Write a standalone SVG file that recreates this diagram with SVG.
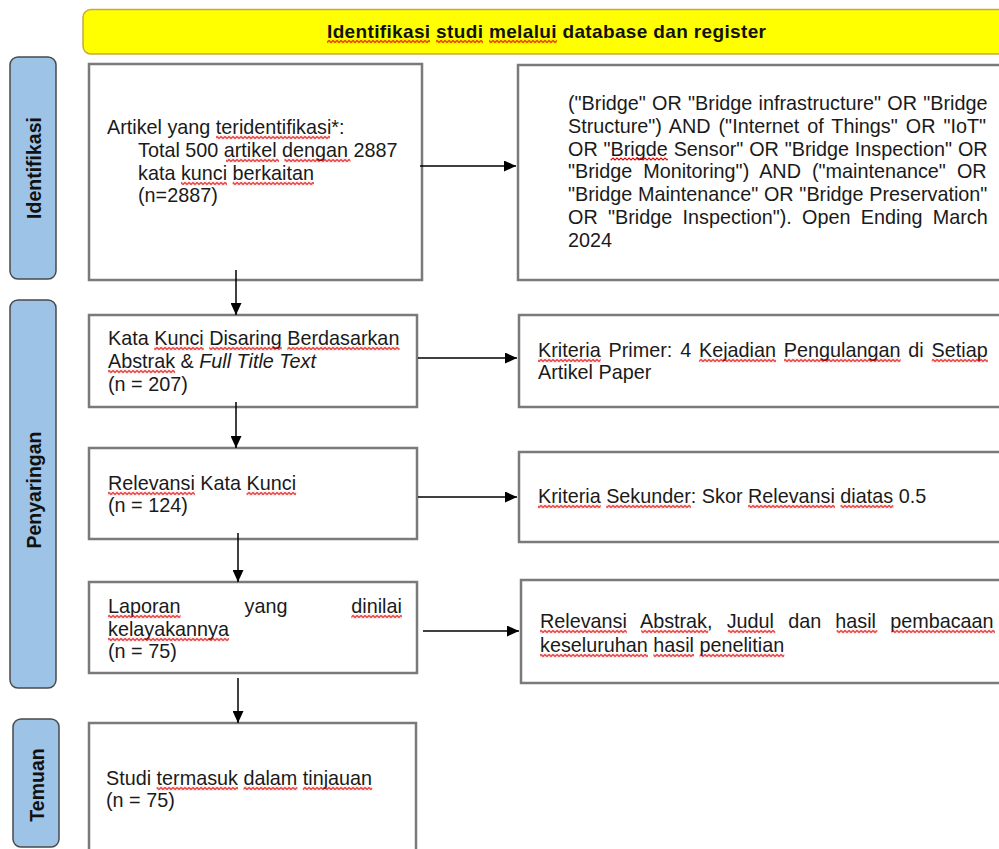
<svg xmlns="http://www.w3.org/2000/svg" width="999" height="849" viewBox="0 0 999 849">
<style>
text{font-family:"Liberation Sans",Arial,sans-serif;font-size:19.8px;fill:#1a1a1a}
.lbl{font-weight:bold;font-size:19.5px;fill:#111}
.hdr{font-weight:bold;font-size:19px;fill:#111}
.side{fill:#9DC3E6;stroke:#4a4a4a;stroke-width:1.5}
.box{fill:#fff;stroke:#7a7a7a;stroke-width:2.5}
.sq rect{fill:url(#wave)}
.con{stroke:#000;stroke-width:1.5;fill:none;marker-end:url(#ah)}
</style>
<defs>
<marker id="ah" markerUnits="userSpaceOnUse" markerWidth="12" markerHeight="11" refX="12" refY="5.5" orient="auto">
<path d="M0,0 L12,5.5 L0,11 z" fill="#000"/>
</marker>
<pattern id="wave" patternUnits="userSpaceOnUse" width="4" height="4">
<path d="M-1,3 L1,1 L3,3 L5,1" fill="none" stroke="#e00000" stroke-width="1.1"/>
</pattern>
</defs>
<rect width="999" height="849" fill="#fff"/>

<g id="header">
<rect x="83" y="9.5" width="930" height="44.5" rx="8" fill="#FFFF00" stroke="#C9A640" stroke-width="1.5"/>
<text class="hdr" x="327" y="38" textLength="439" lengthAdjust="spacing">Identifikasi studi melalui database dan register</text>
<g class="sq" transform="translate(0,39.5)"><rect x="327" width="103" height="4"/><rect x="436" width="47" height="4"/><rect x="489" width="68" height="4"/></g>
</g>

<g id="lbl-identifikasi">
<rect class="side" x="10" y="57" width="46" height="222" rx="8"/>
<text class="lbl" transform="translate(41,168) rotate(-90)" text-anchor="middle">Identifikasi</text>
</g>
<g id="lbl-penyaringan">
<rect class="side" x="10" y="300" width="46" height="388" rx="8"/>
<text class="lbl" transform="translate(41,490) rotate(-90)" text-anchor="middle">Penyaringan</text>
</g>
<g id="lbl-temuan">
<rect class="side" x="13" y="719" width="46" height="128" rx="8"/>
<text class="lbl" transform="translate(44,785) rotate(-90)" text-anchor="middle">Temuan</text>
</g>

<g id="n-artikel">
<rect class="box" x="89" y="64" width="333" height="216"/>
<text x="107" y="134">Artikel yang teridentifikasi*:</text>
<text x="138" y="157">Total 500 artikel dengan 2887</text>
<text x="138" y="180">kata kunci berkaitan</text>
<text x="138" y="202">(n=2887)</text>
<g class="sq" transform="translate(0,135.5)"><rect x="216" width="114" height="4"/></g>
<g class="sq" transform="translate(0,158.5)"><rect x="226" width="53" height="4"/><rect x="284.4" width="66" height="4"/></g>
<g class="sq" transform="translate(0,181.5)"><rect x="181" width="46" height="4"/><rect x="232.6" width="81.4" height="4"/></g>
</g>

<g id="n-query">
<rect class="box" x="518" y="65" width="490" height="215"/>
<text x="568" y="110" word-spacing="0.8">("Bridge" OR "Bridge infrastructure" OR "Bridge</text>
<text x="568" y="132.8" word-spacing="2.5">Structure") AND ("Internet of Things" OR "IoT"</text>
<text x="568" y="155.6" word-spacing="0.38">OR "Brigde Sensor" OR "Bridge Inspection" OR</text>
<text x="568" y="178.4" word-spacing="5.55">"Bridge Monitoring") AND ("maintenance" OR</text>
<text x="568" y="201.2" word-spacing="0.24">"Bridge Maintenance" OR "Bridge Preservation"</text>
<text x="568" y="224" word-spacing="4.82">OR "Bridge Inspection"). Open Ending March</text>
<text x="568" y="246.8">2024</text>
<g class="sq" transform="translate(0,157)"><rect x="610.6" width="57.2" height="4"/></g>
</g>

<g id="n-disaring">
<rect class="box" x="89" y="315" width="328" height="92"/>
<text x="108" y="345">Kata Kunci Disaring Berdasarkan</text>
<text x="108" y="368">Abstrak &amp; <tspan font-style="italic">Full Title Text</tspan></text>
<text x="108" y="391">(n = 207)</text>
<g class="sq" transform="translate(0,346.5)"><rect x="154.2" width="49.5" height="4"/><rect x="209.2" width="72.6" height="4"/><rect x="287.3" width="112.2" height="4"/></g>
<g class="sq" transform="translate(0,369.5)"><rect x="108" width="67.1" height="4"/></g>
</g>

<g id="n-primer">
<rect class="box" x="519" y="315" width="490" height="92"/>
<text x="538" y="357" word-spacing="2.37">Kriteria Primer: 4 Kejadian Pengulangan di Setiap</text>
<text x="538" y="379">Artikel Paper</text>
<g class="sq" transform="translate(0,358.5)"><rect x="538" width="62.7" height="4"/><rect x="699.1" width="77" height="4"/><rect x="784" width="116.7" height="4"/><rect x="931.8" width="56.1" height="4"/></g>
</g>

<g id="n-relevansi">
<rect class="box" x="89" y="448" width="328" height="91"/>
<text x="108" y="490">Relevansi Kata Kunci</text>
<text x="108" y="512">(n = 124)</text>
<g class="sq" transform="translate(0,491.5)"><rect x="108" width="86.9" height="4"/><rect x="246.6" width="49.5" height="4"/></g>
</g>

<g id="n-sekunder">
<rect class="box" x="519" y="452" width="490" height="90"/>
<text x="538" y="503">Kriteria Sekunder: Skor Relevansi diatas 0.5</text>
<g class="sq" transform="translate(0,504.5)"><rect x="538" width="62.7" height="4"/><rect x="606.2" width="84.7" height="4"/><rect x="748.1" width="86.9" height="4"/><rect x="840.5" width="52.8" height="4"/></g>
</g>

<g id="n-laporan">
<rect class="box" x="89" y="582" width="328" height="91"/>
<text x="108" y="613" word-spacing="58.4">Laporan yang dinilai</text>
<text x="108" y="636">kelayakannya</text>
<text x="108" y="658">(n = 75)</text>
<g class="sq" transform="translate(0,614.5)"><rect x="108" width="72.6" height="4"/><rect x="351.3" width="50.6" height="4"/></g>
<g class="sq" transform="translate(0,637.5)"><rect x="108" width="121" height="4"/></g>
</g>

<g id="n-abstrak">
<rect class="box" x="521" y="580" width="490" height="103"/>
<text x="540" y="628" word-spacing="8.68">Relevansi Abstrak, Judul dan hasil pembacaan</text>
<text x="540" y="652">keseluruhan hasil penelitian</text>
<g class="sq" transform="translate(0,629.5)"><rect x="540" width="86.9" height="4"/><rect x="641.1" width="67.1" height="4"/><rect x="727.9" width="47.3" height="4"/><rect x="836.6" width="40.7" height="4"/><rect x="891.5" width="103.5" height="4"/></g>
<g class="sq" transform="translate(0,653.5)"><rect x="540" width="107.9" height="4"/><rect x="653.4" width="40.7" height="4"/><rect x="699.6" width="84.7" height="4"/></g>
</g>

<g id="n-studi">
<rect class="box" x="89" y="723" width="327" height="140"/>
<text x="106" y="785">Studi termasuk dalam tinjauan</text>
<text x="106" y="807">(n = 75)</text>
<g class="sq" transform="translate(0,786.5)"><rect x="156.6" width="81.4" height="4"/><rect x="243.5" width="53.9" height="4"/><rect x="302.9" width="69.3" height="4"/></g>
</g>

<g id="connectors">
<line class="con" x1="420" y1="166" x2="516" y2="166"/>
<line class="con" x1="236" y1="270" x2="236" y2="315"/>
<line class="con" x1="236" y1="402" x2="236" y2="448"/>
<line class="con" x1="418" y1="358" x2="517" y2="358"/>
<line class="con" x1="418" y1="497" x2="517" y2="497"/>
<line class="con" x1="238" y1="533" x2="238" y2="582"/>
<line class="con" x1="423" y1="631" x2="519" y2="631"/>
<line class="con" x1="238" y1="678" x2="238" y2="723"/>
</g>
</svg>
